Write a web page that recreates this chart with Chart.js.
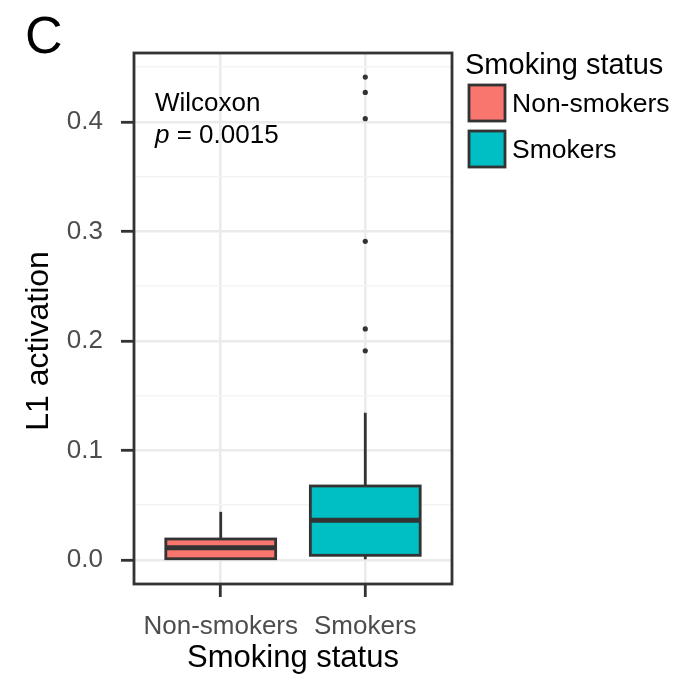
<!DOCTYPE html>
<html>
<head>
<meta charset="utf-8">
<script src="https://cdn.jsdelivr.net/npm/chart.js@4.4.0/dist/chart.umd.min.js"></script>
<style>
  html, body { margin: 0; padding: 0; background: #fff; }
</style>
</head>
<body>
<canvas id="chart" width="673" height="680"></canvas>
<script>
// groups and box statistics
const groups = ["Non-smokers", "Smokers"];
const groupColors = ["#F8766D", "#00BFC4"];
const whiskerLow = [0.0, 0.0006];
const q1 = [0.0, 0.0043];
const medians = [0.0113, 0.0363];
const q3 = [0.0192, 0.0676];
const whiskerHigh = [0.044, 0.1345];
// outliers (all in the Smokers group)
const outlierGroup = [2, 2, 2, 2, 2, 2];
const outlierValues = [0.191, 0.211, 0.291, 0.403, 0.427, 0.441];
// axis ticks
const yTicks = [0, 0.1, 0.2, 0.3, 0.4];
const yMinor = [0.05, 0.15, 0.25, 0.35, 0.45];

const FONT = "'Liberation Sans', Arial, Helvetica, sans-serif";
const DARK = "#333333";

const datasets = groups.map((g, i) => ({
  type: "bar",
  label: g,
  data: [{ x: i + 1, y: [q1[i], q3[i]] }],
  backgroundColor: groupColors[i],
  borderWidth: 0,
  grouped: false,
  barPercentage: 0.76,
  categoryPercentage: 1,
}));

datasets.push({
  type: "scatter",
  label: "outliers",
  data: outlierValues.map((v, i) => ({ x: outlierGroup[i], y: v })),
  pointRadius: 2.6,
  pointBackgroundColor: DARK,
  pointBorderWidth: 0,
});

// whiskers, box outlines, medians, panel border, legend and annotations
const boxPlugin = {
  id: "boxStats",
  beforeDatasetsDraw(chart) {
    const { ctx, scales: { x, y } } = chart;
    ctx.save();
    ctx.strokeStyle = DARK;
    ctx.lineWidth = 2.8;
    groups.forEach((g, i) => {
      const px = x.getPixelForValue(i + 1);
      ctx.beginPath();
      ctx.moveTo(px, y.getPixelForValue(q3[i]));
      ctx.lineTo(px, y.getPixelForValue(whiskerHigh[i]));
      ctx.moveTo(px, y.getPixelForValue(q1[i]));
      ctx.lineTo(px, y.getPixelForValue(whiskerLow[i]));
      ctx.stroke();
    });
    ctx.restore();
  },
  afterDatasetsDraw(chart) {
    const { ctx, chartArea, scales: { y } } = chart;
    ctx.save();
    ctx.strokeStyle = DARK;
    groups.forEach((g, i) => {
      const bar = chart.getDatasetMeta(i).data[0];
      const { x: bx, y: by, base, width } = bar.getProps(["x", "y", "base", "width"], true);
      ctx.lineWidth = 2.8;
      ctx.strokeRect(bx - width / 2, Math.min(by, base), width, Math.abs(base - by));
      const py = y.getPixelForValue(medians[i]);
      ctx.lineWidth = 5;
      ctx.beginPath();
      ctx.moveTo(bx - width / 2, py);
      ctx.lineTo(bx + width / 2, py);
      ctx.stroke();
    });
    // panel border
    ctx.lineWidth = 2.8;
    ctx.strokeRect(chartArea.left, chartArea.top, chartArea.right - chartArea.left, chartArea.bottom - chartArea.top);
    ctx.restore();
  },
  afterDraw(chart) {
    const { ctx } = chart;
    ctx.save();
    ctx.fillStyle = "#000";
    ctx.textBaseline = "alphabetic";
    // panel tag
    ctx.font = "52px " + FONT;
    ctx.fillText("C", 25, 53);
    // y axis title
    ctx.save();
    ctx.translate(48, 341);
    ctx.rotate(-Math.PI / 2);
    ctx.font = "32px " + FONT;
    ctx.textAlign = "center";
    ctx.fillText("L1 activation", 0, 0);
    ctx.restore();
    // test annotation
    ctx.font = "26px " + FONT;
    ctx.fillText("Wilcoxon", 155, 111);
    ctx.font = "italic 26px " + FONT;
    ctx.fillText("p", 155, 143);
    const pw = ctx.measureText("p").width;
    ctx.font = "26px " + FONT;
    ctx.fillText(" = 0.0015", 155 + pw, 143);
    // legend
    ctx.font = "29px " + FONT;
    ctx.fillText("Smoking status", 465, 74);
    ctx.font = "26.5px " + FONT;
    ctx.textBaseline = "middle";
    groups.forEach((g, i) => {
      const top = 85 + i * 46;
      ctx.fillStyle = groupColors[i];
      ctx.fillRect(469, top, 36, 36);
      ctx.strokeStyle = DARK;
      ctx.lineWidth = 2.8;
      ctx.strokeRect(469, top, 36, 36);
      ctx.fillStyle = "#000";
      ctx.fillText(g, 512, top + 20);
    });
    ctx.restore();
  },
};

new Chart(document.getElementById("chart"), {
  type: "bar",
  data: { datasets },
  plugins: [boxPlugin],
  options: {
    responsive: false,
    devicePixelRatio: 1,
    animation: false,
    layout: { padding: { left: 0, top: 53, right: 221, bottom: 0 } },
    plugins: { legend: { display: false }, tooltip: { enabled: false } },
    scales: {
      x: {
        type: "linear",
        min: 0.4,
        max: 2.6,
        offset: false,
        afterBuildTicks: (s) => { s.ticks = groups.map((g, i) => ({ value: i + 1 })); },
        afterFit: (s) => { s.height = 96; },
        grid: {
          offset: false,
          color: "#EBEBEB",
          lineWidth: 2.6,
          tickColor: DARK,
          tickWidth: 2.8,
          tickLength: 13,
        },
        border: { display: false },
        ticks: {
          color: "#4D4D4D",
          font: { family: FONT, size: 26 },
          padding: 14,
          maxRotation: 0,
          callback: (v) => groups[v - 1] || "",
        },
        title: {
          display: true,
          text: "Smoking status",
          color: "#000",
          font: { family: FONT, size: 31 },
          padding: { top: 0, bottom: 3 },
        },
      },
      y: {
        min: -0.0219,
        max: 0.463,
        afterBuildTicks: (s) => {
          s.ticks = yTicks.concat(yMinor).sort((a, b) => a - b).map((v) => ({ value: v }));
        },
        afterFit: (s) => { s.width = 134; },
        grid: {
          color: (c) => (yTicks.includes(c.tick.value) ? "#EBEBEB" : "#F4F4F4"),
          lineWidth: (c) => (yTicks.includes(c.tick.value) ? 2.6 : 1.6),
          tickColor: (c) => (yTicks.includes(c.tick.value) ? DARK : "rgba(0,0,0,0)"),
          tickWidth: 2.8,
          tickLength: 13,
        },
        border: { display: false },
        ticks: {
          color: "#4D4D4D",
          font: { family: FONT, size: 26 },
          padding: 18,
          callback: (v) => (yTicks.includes(v) ? v.toFixed(1) : ""),
        },
        title: { display: false },
      },
    },
  },
});
</script>
</body>
</html>
